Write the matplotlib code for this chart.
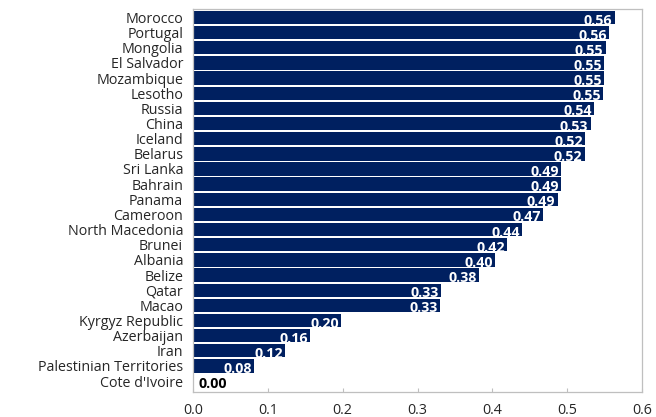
import matplotlib
matplotlib.use("Agg")
import matplotlib.pyplot as plt

countries = ["Morocco", "Portugal", "Mongolia", "El Salvador", "Mozambique", "Lesotho",
             "Russia", "China", "Iceland", "Belarus", "Sri Lanka", "Bahrain", "Panama",
             "Cameroon", "North Macedonia", "Brunei", "Albania", "Belize", "Qatar", "Macao",
             "Kyrgyz Republic", "Azerbaijan", "Iran", "Palestinian Territories", "Cote d'Ivoire"]
values = [0.563, 0.556, 0.551, 0.549, 0.549, 0.548, 0.536, 0.531, 0.524, 0.523,
          0.492, 0.492, 0.487, 0.468, 0.440, 0.420, 0.404, 0.382, 0.331, 0.330,
          0.198, 0.157, 0.123, 0.082, 0.0]
xticks = [0.0, 0.1, 0.2, 0.3, 0.4, 0.5, 0.6]

plt.rcParams["font.family"] = ["Open Sans", "DejaVu Sans"]

fig = plt.figure(figsize=(6.56, 4.17), dpi=100)
ax = fig.add_axes([0.294, 0.06, 0.685, 0.918])

navy = "#002060"
pos = list(range(len(countries)))
ax.barh(pos, values, height=0.88, color=navy, zorder=2)

for y, v in zip(pos, values):
    txt = f"{v:.2f}"
    if v > 0.03:
        ax.text(v - 0.003, y + 0.2, txt, ha="right", va="center", color="white",
                fontsize=10.3, fontweight="bold", zorder=3)
    else:
        ax.text(v + 0.008, y + 0.2, txt, ha="left", va="center", color="black",
                fontsize=10.3, fontweight="bold", zorder=3)

ax.set_yticks(pos)
ax.set_yticklabels(countries, fontsize=10.3, color="#262626")
ax.set_ylim(len(countries) - 1 + 0.72, -0.55)
ax.set_xlim(0, 0.6)
ax.set_xticks(xticks)
ax.set_xticklabels([f"{t:.1f}" for t in xticks], fontsize=10.3, color="#262626")

ax.tick_params(axis="y", length=0, pad=7)
ax.tick_params(axis="x", direction="in", length=3, color="#bfbfbf", pad=8)
for s in ax.spines.values():
    s.set_color("#bfbfbf")
    s.set_linewidth(0.9)

fig.savefig("out.png", dpi=100)
